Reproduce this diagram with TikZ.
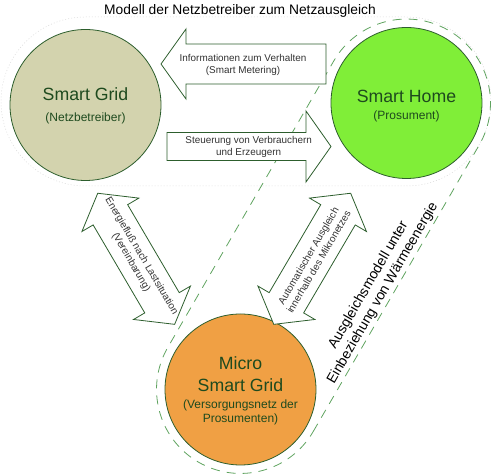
\documentclass[tikz,border=0pt]{standalone}
\usepackage{fontspec}
\setmainfont{Liberation Sans}
\definecolor{sgfill}{HTML}{D3D3AE}
\definecolor{shfill}{HTML}{80EE38}
\definecolor{msgfill}{HTML}{F0A044}
\definecolor{edge}{HTML}{2D5E2D}
\definecolor{ctext}{HTML}{1E4A1E}
\definecolor{dashgreen}{HTML}{5FA35F}
\definecolor{atext}{HTML}{333333}
\begin{document}
\begin{tikzpicture}[x=1pt,y=1pt,
  circ/.style={circle, draw=edge, line width=0.8pt, minimum size=151pt, inner sep=0pt},
  blockarrow/.style={draw=edge, fill=white, line width=0.8pt, line join=miter},
  faint/.style={draw=gray!30, line width=0.5pt, dash pattern=on 1pt off 2pt},
  greendash/.style={draw=dashgreen, line width=0.8pt, dash pattern=on 9pt off 7pt},
  bigtxt/.style={text=ctext, font=\fontsize{17.7}{21}\selectfont, anchor=base, inner sep=0pt},
  subtxt/.style={text=ctext, font=\fontsize{12}{14}\selectfont, anchor=base, inner sep=0pt},
  arrtxt/.style={text=atext, font=\fontsize{9.9}{11.7}\selectfont, anchor=base, inner sep=0pt},
  diagtxt/.style={text=atext, font=\fontsize{10}{12}\selectfont, align=center, inner sep=0pt}
]
\useasboundingbox (0,0) rectangle (491,476);

% faint dotted outline around the upper circles
\draw[faint] (85.5,290) -- (406.5,290) arc[start angle=-90,end angle=90,radius=84.5]
  -- (85.5,459) arc[start angle=90,end angle=270,radius=84.5] -- cycle;

% green dashed outline around Smart Home and Micro Smart Grid
\begin{scope}[shift={(323.5,229.75)}, rotate=59.91]
\draw[greendash] (-165.5,-84) -- (165.5,-84) arc[start angle=-90,end angle=90,radius=84]
  -- (-165.5,84) arc[start angle=90,end angle=270,radius=84] -- cycle;
\end{scope}

% circles
\node[circ, fill=sgfill] (sg) at (85.5,371) {};
\node[circ, fill=shfill] (sh) at (406.5,373) {};
\node[circ, fill=msgfill] (msg) at (240.5,86.5) {};

% horizontal block arrows
\draw[blockarrow] (161,412) -- (186,447) -- (186,432) -- (326,432) -- (326,392)
  -- (186,392) -- (186,377) -- cycle;
\draw[blockarrow] (167,343.5) -- (306,343.5) -- (306,365) -- (331,329.5) -- (306,294)
  -- (306,315.5) -- (167,315.5) -- cycle;

% diagonal double arrows
\begin{scope}[shift={(136.2,217.2)}, rotate=-59.6]
\draw[blockarrow] (-76,0) -- (-51,33) -- (-51,20) -- (51,20) -- (51,33) -- (76,0)
  -- (51,-33) -- (51,-20) -- (-51,-20) -- (-51,-33) -- cycle;
\end{scope}
\begin{scope}[shift={(312.2,217.2)}, rotate=59.6]
\draw[blockarrow] (-76,0) -- (-51,33) -- (-51,20) -- (51,20) -- (51,33) -- (76,0)
  -- (51,-33) -- (51,-20) -- (-51,-20) -- (-51,-33) -- cycle;
\end{scope}

% title
\node[anchor=base, inner sep=0pt, font=\fontsize{13.8}{16}\selectfont] (title) at (240,461)
  {Modell der Netzbetreiber zum Netzausgleich};

% circle texts
\node[bigtxt] (sgname) at (85.5,375.5) {Smart Grid};
\node[subtxt] (sgsub) at (85.5,354.5) {(Netzbetreiber)};
\node[bigtxt] (shname) at (406.5,373) {Smart Home};
\node[subtxt] (shsub) at (406.5,356.8) {(Prosument)};
\node[bigtxt] (msgname1) at (240.5,106.5) {Micro};
\node[bigtxt] (msgname2) at (240.5,84.1) {Smart Grid};
\node[subtxt] (msgsub1) at (240.5,67.8) {(Versorgungsnetz der};
\node[subtxt] (msgsub2) at (240.5,53.5) {Prosumenten)};

% arrow texts
\node[arrtxt] (info1) at (243,414.2) {Informationen zum Verhalten};
\node[arrtxt] (info2) at (243,402.5) {(Smart Metering)};
\node[arrtxt] (steu1) at (248.7,332.5) {Steuerung von Verbrauchern};
\node[arrtxt] (steu2) at (248.7,320.2) {und Erzeugern};
\node[diagtxt, rotate=-59.6] (energie) at (136.2,216.8)
  {Energiefluß nach Lastsituation\\(Vereinbarung)};
\node[diagtxt, rotate=59.6] (auto) at (313.5,217.2)
  {Automatischer Ausgleich\\innerhalb des Mikronetzes};

% big rotated label
\node[rotate=59.9, align=center, inner sep=0pt, font=\fontsize{14}{16.4}\selectfont] (waerme)
  at (375.7,186.8) {Ausgleichsmodell unter\\Einbeziehung von Wärmeenergie};
\end{tikzpicture}
\end{document}
